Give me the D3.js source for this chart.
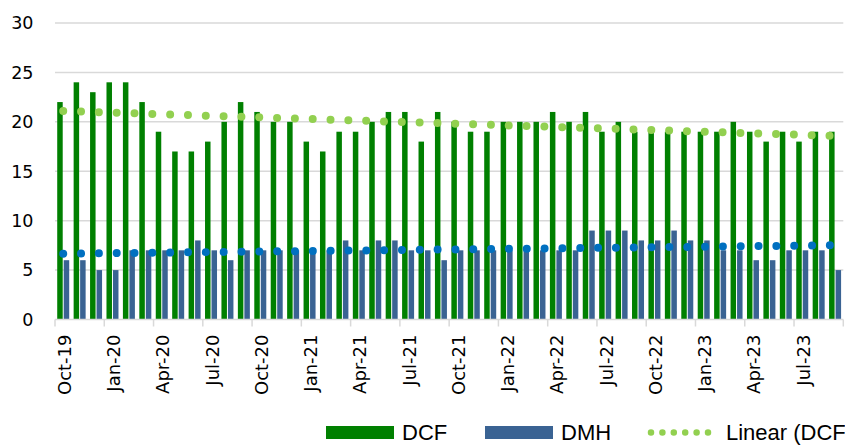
<!DOCTYPE html>
<html><head><meta charset="utf-8">
<script src="https://cdn.jsdelivr.net/npm/d3@7"></script>
<style>html,body{margin:0;padding:0;background:#fff;overflow:hidden}</style>
</head><body>
<svg id="c" width="845" height="445"></svg>
<script>
const months = ["Oct-19","Nov-19","Dec-19","Jan-20","Feb-20","Mar-20","Apr-20","May-20","Jun-20","Jul-20","Aug-20","Sep-20",
"Oct-20","Nov-20","Dec-20","Jan-21","Feb-21","Mar-21","Apr-21","May-21","Jun-21","Jul-21","Aug-21","Sep-21",
"Oct-21","Nov-21","Dec-21","Jan-22","Feb-22","Mar-22","Apr-22","May-22","Jun-22","Jul-22","Aug-22","Sep-22",
"Oct-22","Nov-22","Dec-22","Jan-23","Feb-23","Mar-23","Apr-23","May-23","Jun-23","Jul-23","Aug-23","Sep-23"];
const dcf = [22,24,23,24,24,22,19,17,17,18,20,22,21,20,20,18,17,19,19,20,21,21,18,21,
             20,19,19,20,20,20,21,20,21,19,20,19,19,19,19,19,19,20,19,18,19,18,19,19];
const dmh = [6,6,5,5,7,7,7,7,8,7,6,7,7,7,7,7,7,8,7,8,8,7,7,6,
             7,7,7,7,7,7,7,7,9,9,9,8,8,9,8,8,7,7,6,6,7,7,7,5];
const tickLabels = ["Oct-19","Jan-20","Apr-20","Jul-20","Oct-20","Jan-21","Apr-21","Jul-21","Oct-21","Jan-22","Apr-22","Jul-22","Oct-22","Jan-23","Apr-23","Jul-23"];
const yTicks = [0,5,10,15,20,25,30];
const seriesNames = ["DCF","DMH"];
const colors = {DCF:"#008000", DMH:"#3A6393", trendDCF:"#92D050", trendDMH:"#0070C0"};

const svg = d3.select("#c");
const x0 = 55, x1 = 843.3;
const x = d3.scaleBand().domain(months).range([x0, x1]).paddingInner(0).paddingOuter(0);
const xs = d3.scaleBand().domain(seriesNames).range([0, x.bandwidth()]).paddingInner(0.154).paddingOuter(0.341);
const y = d3.scaleLinear().domain([0,30]).range([319.5, 23]);

// gridlines
svg.append("g").selectAll("line").data(yTicks.filter(d=>d>0)).join("line")
  .attr("x1", x0).attr("x2", x1).attr("y1", d=>y(d)).attr("y2", d=>y(d))
  .attr("stroke", "#d9d9d9").attr("stroke-width", 1.5);

// y labels
svg.append("g").selectAll("text").data(yTicks).join("text")
  .attr("x", 33.5).attr("y", d=>y(d)).attr("dy","0.36em").attr("text-anchor","end")
  .attr("font-family","DejaVu Sans").attr("font-size", 17.5).attr("fill","#000")
  .text(d=>d);

// bars
const bars = svg.append("g");
[["DCF", dcf], ["DMH", dmh]].forEach(([name, vals]) => {
  bars.selectAll("rect." + name).data(vals).join("rect").attr("class", name)
    .attr("x", (d,i)=>x(months[i]) + xs(name))
    .attr("width", xs.bandwidth())
    .attr("y", d=>y(d)).attr("height", d=>y(0)-y(d))
    .attr("fill", colors[name]);
});

// x axis line + ticks
svg.append("line").attr("x1", x0).attr("x2", x1).attr("y1", y(0)).attr("y2", y(0))
  .attr("stroke", "#d9d9d9").attr("stroke-width", 1.5);
const tickIdx = d3.range(0, months.length + 1, 3);
svg.append("g").selectAll("line").data(tickIdx).join("line")
  .attr("x1", i => i < months.length ? x(months[i]) : x1)
  .attr("x2", i => i < months.length ? x(months[i]) : x1)
  .attr("y1", y(0)).attr("y2", y(0) + 7)
  .attr("stroke", "#d9d9d9").attr("stroke-width", 1.5);

// x labels
svg.append("g").selectAll("text").data(tickLabels).join("text")
  .attr("transform", d => `translate(${x(d) + x.bandwidth()/2 + 1},${y(0) + 15}) rotate(-90)`)
  .attr("text-anchor","end").attr("dominant-baseline","central")
  .attr("font-family","DejaVu Sans").attr("font-size", 18).attr("fill","#000")
  .text(d=>d);

// linear trends (least squares from data)
function trend(vals){
  const n = vals.length, xm = d3.mean(d3.range(n)), ym = d3.mean(vals);
  let sxy=0, sxx=0;
  vals.forEach((v,i)=>{ sxy += (i-xm)*(v-ym); sxx += (i-xm)*(i-xm); });
  const b = sxy/sxx, a = ym - b*xm;
  return [[0, a], [n-1, a + b*(n-1)]];
}
const line = d3.line().x(d => x(months[d[0]]) + x.bandwidth()/2).y(d => y(d[1]));
[["trendDMH", dmh], ["trendDCF", dcf]].forEach(([k, vals]) => {
  svg.append("path").attr("d", line(trend(vals)))
    .attr("fill","none").attr("stroke", colors[k]).attr("stroke-width", 8)
    .attr("stroke-linecap","round").attr("stroke-dasharray","0 17.83");
});

// legend
const lg = svg.append("g").attr("font-family","Liberation Sans").attr("font-size", 22).attr("fill","#000");
const legendItems = [
  {label:"DCF", type:"rect", color:colors.DCF, x:326},
  {label:"DMH", type:"rect", color:colors.DMH, x:485},
  {label:"Linear (DCF)", type:"dots", color:colors.trendDCF, x:648}
];
legendItems.forEach(it => {
  if (it.type === "rect") {
    lg.append("rect").attr("x", it.x).attr("y", 426).attr("width", 68).attr("height", 13).attr("fill", it.color);
    lg.append("text").attr("x", it.x + 76).attr("y", 439.5).text(it.label);
  } else {
    lg.append("line").attr("x1", it.x + 3).attr("x2", it.x + 60).attr("y1", 432.5).attr("y2", 432.5)
      .attr("stroke", it.color).attr("stroke-width", 6.5).attr("stroke-linecap","round").attr("stroke-dasharray","0 11.4");
    lg.append("text").attr("x", it.x + 78).attr("y", 439.5).text(it.label);
  }
});
</script>
</body></html>
